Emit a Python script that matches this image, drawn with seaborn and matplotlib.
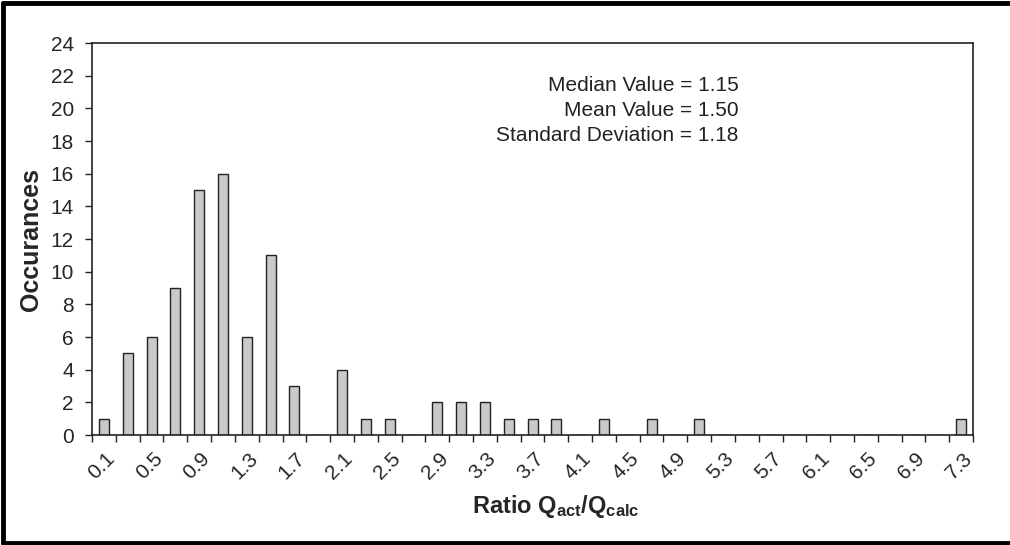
import matplotlib
matplotlib.use("Agg")
import matplotlib.pyplot as plt
import seaborn as sns
import pandas as pd
from matplotlib.lines import Line2D

# ---- data ----
ratio_bins = ["0.1", "0.3", "0.5", "0.7", "0.9", "1.1", "1.3", "1.5", "1.7", "1.9",
              "2.1", "2.3", "2.5", "2.7", "2.9", "3.1", "3.3", "3.5", "3.7", "3.9",
              "4.1", "4.3", "4.5", "4.7", "4.9", "5.1", "5.3", "5.5", "5.7", "5.9",
              "6.1", "6.3", "6.5", "6.7", "6.9", "7.1", "7.3"]
occurances = [1, 5, 6, 9, 15, 16, 6, 11, 3, 0,
              4, 1, 1, 0, 2, 2, 2, 1, 1, 1,
              0, 1, 0, 1, 0, 1, 0, 0, 0, 0,
              0, 0, 0, 0, 0, 0, 1]
y_ticks = list(range(0, 25, 2))
stats_text = ["Median Value = 1.15", "Mean Value = 1.50", "Standard Deviation = 1.18"]

sns.set_theme(style="white")
plt.rcParams['font.family'] = ['Liberation Sans', 'DejaVu Sans']
plt.rcParams['mathtext.fontset'] = 'custom'
plt.rcParams['mathtext.rm'] = 'Liberation Sans'
plt.rcParams['mathtext.bf'] = 'Liberation Sans:bold'
plt.rcParams['mathtext.it'] = 'Liberation Sans:italic'

df = pd.DataFrame({"ratio": ratio_bins, "count": occurances})

fig = plt.figure(figsize=(10.1, 5.45), dpi=100)
ax = fig.add_axes([0.0911, 0.2018, 0.8723, 0.7193])

sns.barplot(data=df, x="ratio", y="count", order=ratio_bins, ax=ax,
            color="#c9c9c9", edgecolor="#222222", linewidth=1.0, width=0.42,
            saturation=1)

n = len(ratio_bins)
ax.set_xlim(-0.5, n - 0.5)
ax.set_ylim(0, 24)
ax.set_yticks(y_ticks)
ax.set_yticklabels([str(v) for v in y_ticks], fontsize=15)

# tick marks at category boundaries, labels at every other category
ax.set_xticks([i - 0.5 for i in range(n + 1)])
ax.set_xticklabels([""] * (n + 1))
ax.set_xticks([i + 0.05 for i in range(0, n, 2)], minor=True)
ax.set_xticklabels([ratio_bins[i] for i in range(0, n, 2)], minor=True,
                   rotation=45, ha="right", rotation_mode="anchor", fontsize=15)
ax.tick_params(axis="x", which="major", direction="out", length=5, width=1, color="#222222", bottom=True)
ax.tick_params(axis="x", which="minor", length=0, pad=10, bottom=True)
ax.tick_params(axis="y", direction="out", length=5, width=1, color="#222222", left=True, pad=8)

for s in ax.spines.values():
    s.set_visible(True)
    s.set_color("#222222")
    s.set_linewidth(1.2)

ax.set_xlabel("")
ax.set_ylabel("Occurances", fontsize=18, fontweight="bold")
ax.yaxis.set_label_coords(-0.0556, 0.5)
fig.text(0.5505, 0.07, r"$\mathbf{Ratio\ Q_{act}/Q_{calc}}$", fontsize=17,
         ha="center", va="center")

ax.text(0.734, 0.915, "\n".join(stats_text), transform=ax.transAxes,
        ha="right", va="top", multialignment="right", fontsize=15,
        linespacing=1.39, color="#222222")

# outer frame (left, top, bottom edges)
frame_kw = dict(transform=fig.transFigure, color="black", linewidth=3.5)
fig.add_artist(Line2D([0.003, 0.003], [0.003, 0.995], **frame_kw))
fig.add_artist(Line2D([0.003, 1.0], [0.995, 0.995], **frame_kw))
fig.add_artist(Line2D([0.003, 1.0], [0.003, 0.003], **frame_kw))

fig.savefig("out.png", dpi=100, facecolor="white")
